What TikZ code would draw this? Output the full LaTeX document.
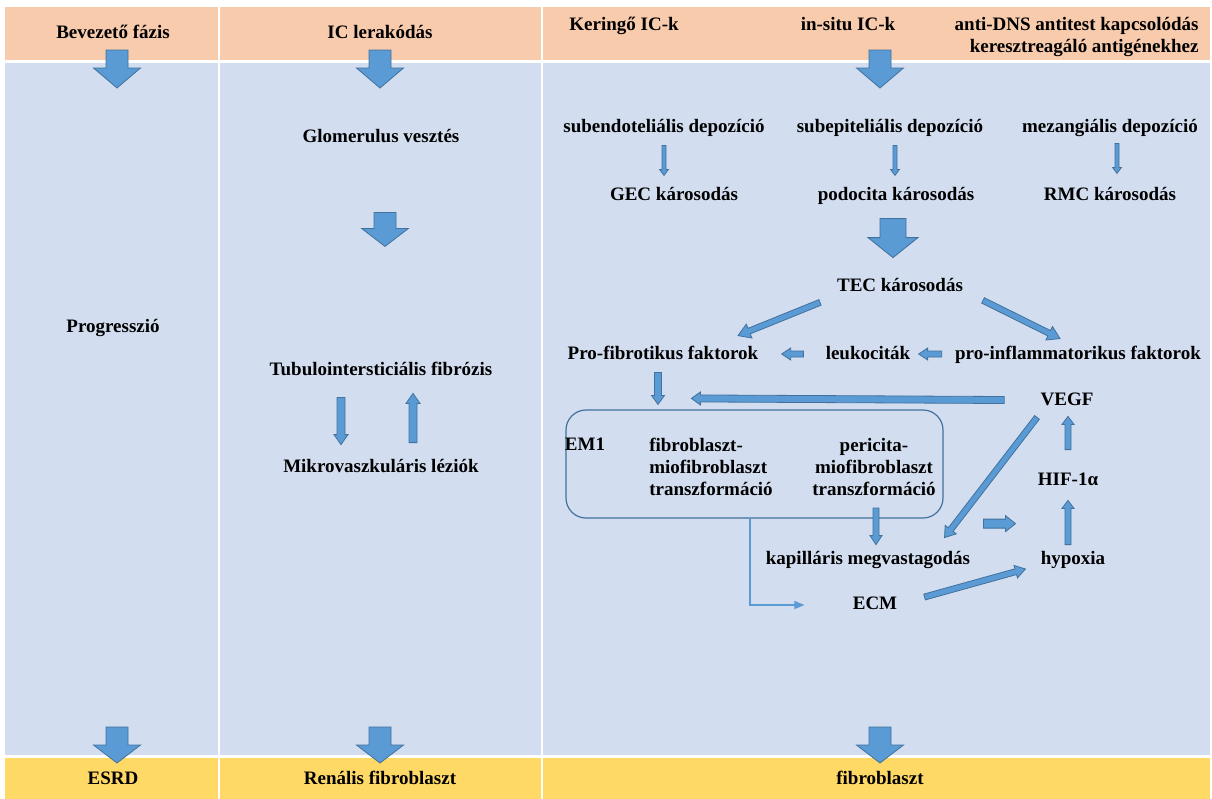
\documentclass[tikz,border=0pt]{standalone}
\usepackage{fontspec}
\setmainfont{Liberation Serif}
\usepackage{xcolor}
\usepackage{tikz}
\usetikzlibrary{positioning, arrows.meta, calc}

\definecolor{headpeach}{HTML}{F8CBAD}
\definecolor{bodyblue}{HTML}{D2DDEF}
\definecolor{footyellow}{HTML}{FFD966}
\definecolor{arrowblue}{HTML}{5B9BD5}
\definecolor{arrowedge}{HTML}{41719C}

\tikzset{
  lbl/.style={font=\fontsize{9.5}{11}\selectfont\bfseries, inner sep=1pt, text height=7pt, text depth=2pt},
  lblblock/.style={font=\fontsize{9.5}{11}\selectfont\bfseries, inner sep=1pt},
  fat/.style={fill=arrowblue, draw=arrowedge, line width=0.4pt},
  emframe/.style={draw=arrowedge, line width=0.6pt, rounded corners=10pt, inner sep=0pt},
  thinconn/.style={draw=arrowblue, line width=0.6pt, -{Triangle[length=5pt, width=4pt]}},
}

% block arrow: from, to, half shaft, half head, head length
\newcommand{\fatarrow}[6][]{%
  \draw[fat,#1] let \p1=#2, \p2=#3,
    \n1={atan2(\y2-\y1,\x2-\x1)},
    \n2={veclen(\x2-\x1,\y2-\y1)-#6} in
    ($(\p1)+(\n1+90:#4)$) -- ($(\p1)+(\n1:\n2)+(\n1+90:#4)$) --
    ($(\p1)+(\n1:\n2)+(\n1+90:#5)$) -- (\p2) --
    ($(\p1)+(\n1:\n2)+(\n1-90:#5)$) -- ($(\p1)+(\n1:\n2)+(\n1-90:#4)$) --
    ($(\p1)+(\n1-90:#4)$) -- cycle;}

\begin{document}
\begin{tikzpicture}[x=0.5pt, y=-0.5pt]
\useasboundingbox (0,0) rectangle (1212,799);

% bands
\fill[headpeach] (5,7) rectangle (1210,60);
\fill[bodyblue] (5,63) rectangle (1210,755);
\fill[footyellow] (5,758) rectangle (1210,799);
\foreach \cx in {219,542} \draw[white, line width=1pt] (\cx,7) -- (\cx,799);

% header
\node[lbl] (bev) at (113,33) {Bevezető fázis};
\node[lbl] (icl) at (380,33) {IC lerakódás};
\node[lbl, anchor=west] (ker) at (567,25) {Keringő IC-k};
\node[lbl] (insitu) at (848,25) {in-situ IC-k};
\node[lbl, anchor=east] (anti) at (1201,25) {anti-DNS antitest kapcsolódás};
\node[lbl, anchor=east] (kereszt) at (1201,47) {keresztreagáló antigénekhez};

% footer
\node[lbl] (esrd) at (113,779) {ESRD};
\node[lbl] (renal) at (380,779) {Renális fibroblaszt};
\node[lbl] (fibro) at (880,779) {fibroblaszt};

% left columns
\node[lbl] (prog) at (113,327) {Progresszió};
\node[lbl] (glom) at (381,137) {Glomerulus vesztés};
\node[lbl] (tubu) at (381,370) {Tubulointersticiális fibrózis};
\node[lbl] (mikro) at (381,467) {Mikrovaszkuláris léziók};

% right column
\node[lbl] (subendo) at (664,127) {subendoteliális depozíció};
\node[lbl] (subepi) at (890,127) {subepiteliális depozíció};
\node[lbl] (mez) at (1110,127) {mezangiális depozíció};
\node[lbl] (gec) at (674,195) {GEC károsodás};
\node[lbl] (podo) at (896,195) {podocita károsodás};
\node[lbl] (rmc) at (1110,195) {RMC károsodás};
\node[lbl] (tec) at (900,286) {TEC károsodás};
\node[lbl] (profib) at (663,354) {Pro-fibrotikus faktorok};
\node[lbl] (leuko) at (868,354) {leukociták};
\node[lbl] (proinf) at (1078,354) {pro-inflammatorikus faktorok};
\node[lbl] (vegf) at (1067,400) {VEGF};
\node[emframe, minimum width=188.5pt, minimum height=54pt] (em) at (754.5,464) {};
\node[lbl] (em1) at (585,445) {EM1};
\node[lblblock, align=left] (fibmio) at (711,467) {fibroblaszt-\\miofibroblaszt\\transzformáció};
\node[lblblock, align=center] (peri) at (874,467) {pericita-\\miofibroblaszt\\transzformáció};
\node[lbl] (hif) at (1068,480) {HIF-1α};
\node[lbl] (kap) at (868,559) {kapilláris megvastagodás};
\node[lbl] (hyp) at (1073,559) {hypoxia};
\node[lbl] (ecm) at (875,604) {ECM};

% big arrows
\foreach \cx in {117,380,880} {
  \fatarrow{(\cx,50)}{(\cx,88)}{5.5pt}{11.75pt}{10pt}
  \fatarrow{(\cx,727)}{(\cx,763)}{5.5pt}{11.75pt}{9pt}
}
\fatarrow{($(glom.south)+(4,64)$)}{($(glom.south)+(4,98)$)}{5.5pt}{11.75pt}{9pt}
\fatarrow{($(podo.south)+(-3,12)$)}{($(tec.north)+(-7,-17)$)}{6.5pt}{12.5pt}{10pt}

% left arrows
\fatarrow{($(tubu.south)+(-40,16)$)}{($(mikro.north)+(-40,-11)$)}{2pt}{3.5pt}{5pt}
\fatarrow{($(mikro.north)+(32,-13)$)}{($(tubu.south)+(32,12)$)}{2pt}{3.5pt}{5pt}

% depozicio -> karosodas
\fatarrow{($(subendo.south)+(0,7)$)}{($(subendo.south)+(0,37)$)}{1pt}{2.25pt}{3pt}
\fatarrow{($(subepi.south)+(5,7)$)}{($(subepi.south)+(5,37)$)}{1pt}{2.25pt}{3pt}
\fatarrow{($(mez.south)+(7,5)$)}{($(mez.south)+(7,35)$)}{1pt}{2.25pt}{3pt}

% TEC
\fatarrow{($(tec.south)+(-80,5)$)}{($(profib.north)+(75,-7)$)}{1.5pt}{3.75pt}{6pt}
\fatarrow{($(tec.south)+(83,3)$)}{($(proinf.north)+(-18,-4)$)}{1.5pt}{3.75pt}{6pt}
\fatarrow{($(proinf.west)+(-11,0)$)}{($(leuko.east)+(6,0)$)}{1.5pt}{3pt}{4.5pt}
\fatarrow{($(leuko.west)+(-20,0)$)}{($(profib.east)+(21,0)$)}{1.5pt}{3pt}{4.5pt}

% EM1 inputs / outputs
\fatarrow{($(vegf.west)+(-34,0)$)}{($(em.north west)+(126,-11)$)}{1.75pt}{3.25pt}{4.5pt}
\fatarrow{($(profib.south)+(-5,7)$)}{($(profib.south |- em.north)+(-5,-5)$)}{1.75pt}{3.25pt}{4.5pt}
\fatarrow{($(peri.south)+(2,10)$)}{($(kap.north)+(8,-3)$)}{1.5pt}{3pt}{4.5pt}
\draw[thinconn] ($(em.south)+(-4.5,0)$) |- ($(ecm.west)+(-46,1)$);

% VEGF loop
\fatarrow{($(vegf.south)+(-30,6)$)}{($(kap.north east)+(-28,-10)$)}{1.5pt}{3.5pt}{5pt}
\fatarrow{($(kap.north east)+(11,-24)$)}{($(kap.north east)+(43,-24)$)}{2.25pt}{4pt}{5pt}
\fatarrow{($(hyp.north)+(-5,-3)$)}{($(hif.south)+(0,9)$)}{1.5pt}{3pt}{4pt}
\fatarrow{($(hif.north)+(0,-19)$)}{($(vegf.south)+(1,5)$)}{1.5pt}{3pt}{4pt}
\fatarrow{($(ecm.east)+(25,-7)$)}{($(hyp.west)+(-13,10)$)}{1.5pt}{3.25pt}{5pt}
\end{tikzpicture}
\end{document}
